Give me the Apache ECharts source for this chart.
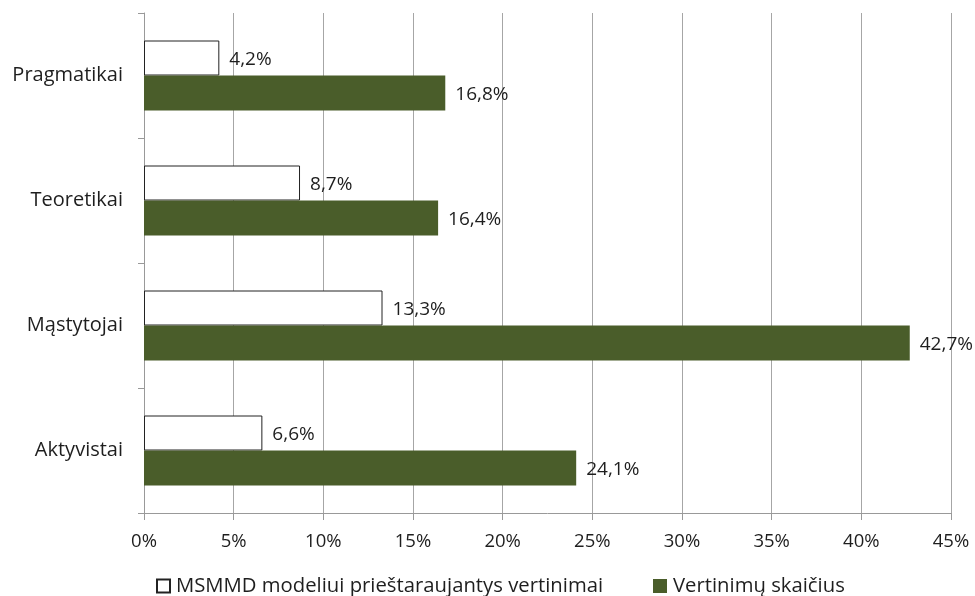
<!DOCTYPE html>
<html>
<head>
<meta charset="utf-8">
<script src="https://cdn.jsdelivr.net/npm/echarts@6/dist/echarts.min.js"></script>
<style>
  html, body { margin: 0; padding: 0; background: #fff; }
  #chart { width: 975px; height: 596px; }
</style>
</head>
<body>
<div id="chart"></div>
<script>
// Categories listed bottom to top along the vertical axis
const categories = ['Aktyvistai', 'Mąstytojai', 'Teoretikai', 'Pragmatikai'];
const contradictingShare = [6.6, 13.3, 8.7, 4.2];
const ratingsShare = [24.1, 42.7, 16.4, 16.8];
const seriesNames = ['MSMMD modeliui prieštaraujantys vertinimai', 'Vertinimų skaičius'];
const xTicks = [0, 5, 10, 15, 20, 25, 30, 35, 40, 45];

const fontFamily = '"Open Sans", "Noto Sans", sans-serif';
const textColor = '#1e1e1e';
const pct = v => String(v).replace('.', ',') + '%';

const chart = echarts.init(document.getElementById('chart'), null, { renderer: 'canvas' });

const labelStyle = {
  show: true,
  position: 'right',
  distance: 10,
  offset: [0, 2],
  color: textColor,
  fontFamily: fontFamily,
  fontSize: 19,
  formatter: p => pct(p.value)
};

const legendText = { color: textColor, fontSize: 20.3, fontFamily: fontFamily, padding: [0, 0, 0, 1] };

chart.setOption({
  animation: false,
  backgroundColor: '#fff',
  textStyle: { fontFamily: fontFamily },
  grid: { left: 144, right: 24, top: 13, bottom: 83, containLabel: false },
  legend: [
    {
      data: [seriesNames[0]],
      top: 571,
      left: 151,
      itemWidth: 13,
      itemHeight: 13,
      icon: 'rect',
      textStyle: legendText
    },
    {
      data: [seriesNames[1]],
      top: 571,
      left: 648,
      itemWidth: 14,
      itemHeight: 14,
      icon: 'rect',
      textStyle: legendText
    }
  ],
  xAxis: {
    type: 'value',
    min: xTicks[0],
    max: xTicks[xTicks.length - 1],
    interval: 5,
    axisLine: { show: true, lineStyle: { color: '#999', width: 1 } },
    axisTick: { show: true, length: 7, lineStyle: { color: '#999' } },
    splitLine: { show: true, lineStyle: { color: '#a6a6a6', width: 1 } },
    axisLabel: {
      color: textColor,
      fontSize: 18.5,
      margin: 19,
      fontFamily: fontFamily,
      formatter: v => v + '%'
    }
  },
  yAxis: {
    type: 'category',
    data: categories,
    axisLine: { show: true, lineStyle: { color: '#999', width: 1 } },
    axisTick: { show: true, length: 6, alignWithLabel: false, lineStyle: { color: '#999' } },
    splitLine: { show: false },
    axisLabel: {
      color: textColor,
      fontSize: 20,
      margin: 21,
      fontFamily: fontFamily
    }
  },
  series: [
    {
      name: seriesNames[0],
      type: 'bar',
      data: contradictingShare,
      barGap: '0%',
      barCategoryGap: '44%',
      itemStyle: { color: '#ffffff', borderColor: '#222', borderWidth: 1 },
      label: labelStyle
    },
    {
      name: seriesNames[1],
      type: 'bar',
      data: ratingsShare,
      barGap: '0%',
      barCategoryGap: '44%',
      itemStyle: { color: '#4a5d2a' },
      label: labelStyle
    }
  ]
});
</script>
</body>
</html>
